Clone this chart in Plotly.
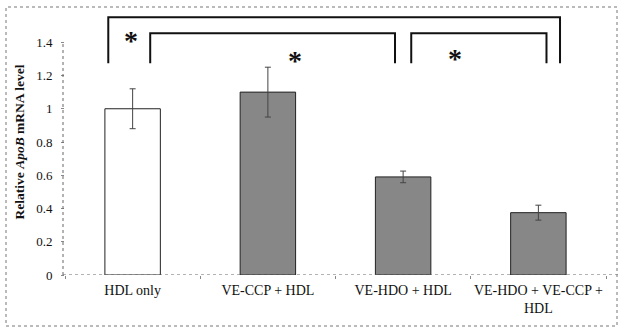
import plotly.graph_objects as go

categories = ["HDL only", "VE-CCP + HDL", "VE-HDO + HDL", "VE-HDO + VE-CCP +<br>HDL"]
values = [1.00, 1.10, 0.59, 0.375]
errors = [0.12, 0.15, 0.035, 0.045]
bar_colors = ["#ffffff", "#878787", "#878787", "#878787"]
y_ticks = [0, 0.2, 0.4, 0.6, 0.8, 1, 1.2, 1.4]
y_tick_text = ["0", "0.2", "0.4", "0.6", "0.8", "1", "1.2", "1.4"]
# significance brackets: (left x index, right x index, top y, leg bottom y)
brackets = [(-0.18, 3.16, 1.55, 1.274), (0.13, 1.94, 1.454, 1.274), (2.06, 3.06, 1.454, 1.274)]
stars = [(-0.01, 1.41), (1.2, 1.29), (2.38, 1.30)]

SERIF = "Liberation Serif, Times New Roman, DejaVu Serif, serif"

W, H = 619, 328
ML, MR, MT, MB = 65, 13, 9, 53
PW, PH = W - ML - MR, H - MT - MB

def px(x):
    return (x - ML) / PW

def py(y):
    return (H - MB - y) / PH

fig = go.Figure()
fig.add_trace(go.Bar(
    x=categories, y=values,
    width=0.41,
    marker=dict(color=bar_colors, line=dict(color="#222222", width=1)),
    error_y=dict(type="data", array=errors, visible=True, color="#444444", thickness=1, width=3),
    showlegend=False,
))

shapes = []
for (x0, x1, ytop, ybot) in brackets:
    shapes.append(dict(type="path", xref="x", yref="y",
                       path=f"M {x0},{ybot} L {x0},{ytop} L {x1},{ytop} L {x1},{ybot}",
                       line=dict(color="#111111", width=2)))
# dotted axis lines
shapes.append(dict(type="line", xref="paper", yref="y", x0=px(63), x1=px(619), y0=0, y1=0,
                   line=dict(color="#666666", width=1, dash="dot")))
shapes.append(dict(type="line", xref="paper", yref="y", x0=px(63), x1=px(63), y0=0, y1=1.4,
                   line=dict(color="#666666", width=1, dash="dot")))
# outer dotted frame
shapes.append(dict(type="rect", xref="paper", yref="paper", x0=px(6), x1=px(617), y0=py(326), y1=py(7),
                   line=dict(color="#777777", width=1, dash="dot"), fillcolor="rgba(0,0,0,0)"))

annotations = []
for (sx, sy) in stars:
    annotations.append(dict(x=sx, y=sy, xref="x", yref="y", text="<b>*</b>", showarrow=False,
                            font=dict(family=SERIF, size=28, color="#111111")))

fig.update_layout(
    width=W, height=H,
    margin=dict(l=ML, r=MR, t=MT, b=MB, autoexpand=False),
    paper_bgcolor="white", plot_bgcolor="white",
    shapes=shapes, annotations=annotations,
    font=dict(family=SERIF, color="#111111"),
    bargap=0.59,
)
fig.update_xaxes(
    type="category", range=[-0.5, 3.5], automargin=False,
    showline=False, showgrid=False, zeroline=False,
    ticks="outside", tickson="boundaries", ticklen=3, tickcolor="#888888",
    ticklabelstandoff=5, tickangle=0,
    tickfont=dict(family=SERIF, size=14, color="#111111"),
)
fig.update_yaxes(
    range=[0, 1.6], tickvals=y_ticks, ticktext=y_tick_text, automargin=False,
    showline=False, showgrid=False, zeroline=False,
    ticks="outside", ticklen=3, tickcolor="#888888",
    ticklabelstandoff=6,
    tickfont=dict(family=SERIF, size=13, color="#111111"),
    title=dict(text="<b>Relative <i>ApoB</i> mRNA level</b>",
               font=dict(family=SERIF, size=13.5, color="#111111"), standoff=8),
)

fig.write_html("out.html", config={"displayModeBar": False},
               post_script="document.body.style.margin='0';document.body.style.overflow='hidden';")
